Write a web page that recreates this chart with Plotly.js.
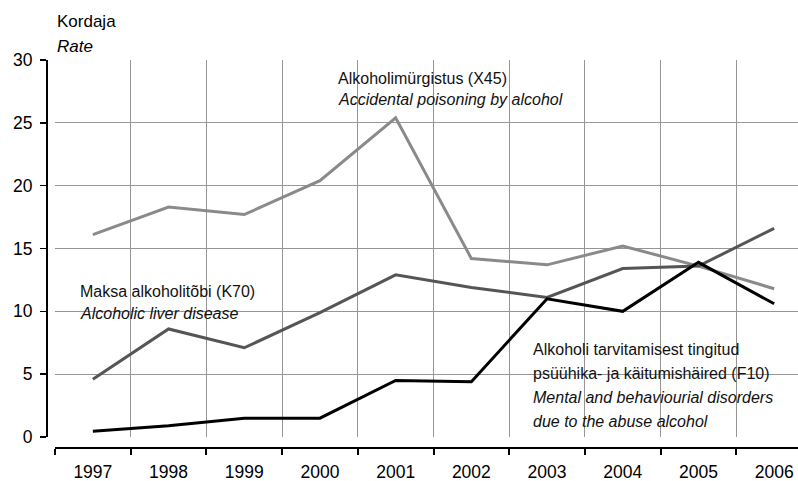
<!DOCTYPE html>
<html>
<head>
<meta charset="utf-8">
<script src="https://cdn.plot.ly/plotly-3.0.1.min.js"></script>
<style>
  html, body { margin: 0; padding: 0; overflow: hidden; background: #fff; }
  #chart { width: 812px; height: 481px; }
</style>
</head>
<body>
<div id="chart"></div>
<script>
// ---- data ----
const years = ['1997','1998','1999','2000','2001','2002','2003','2004','2005','2006'];
const poisoningX45 = [16.1, 18.3, 17.7, 20.4, 25.4, 14.2, 13.7, 15.2, 13.6, 11.8];
const liverK70     = [4.6, 8.6, 7.1, 9.9, 12.9, 11.9, 11.1, 13.4, 13.6, 16.6];
const disordersF10 = [0.45, 0.9, 1.5, 1.5, 4.5, 4.4, 11.0, 10.0, 13.9, 10.6];
const yTicks = [0, 5, 10, 15, 20, 25, 30];

// ---- geometry helpers (pixel -> axis units for text boxes) ----
const PLOT_L = 55, CAT_W = 75.7, Y0 = 437, PX_PER_UNIT = 377 / 30;
const fx = px => (px - PLOT_L) / CAT_W - 0.5;
const fy = py => (Y0 - py) / PX_PER_UNIT;

const FONT = 'Liberation Sans, Arial, sans-serif';

const traces = [
  { x: years, y: poisoningX45, type: 'scatter', mode: 'lines',
    line: { color: '#8a8a8a', width: 3 }, hoverinfo: 'skip' },
  { x: years, y: liverK70, type: 'scatter', mode: 'lines',
    line: { color: '#555555', width: 3 }, hoverinfo: 'skip' },
  { x: years, y: disordersF10, type: 'scatter', mode: 'lines',
    line: { color: '#000000', width: 3 }, hoverinfo: 'skip' }
];

function whiteBox(x0, x1, y0, y1) {
  return { type: 'rect', xref: 'x', yref: 'y', layer: 'below',
    x0: fx(x0), x1: fx(x1), y0: fy(y1), y1: fy(y0),
    fillcolor: '#ffffff', line: { width: 0 } };
}
function label(px, py, text) {
  return { xref: 'x', yref: 'y', x: fx(px), y: fy(py), text: text,
    showarrow: false, xanchor: 'left', yanchor: 'middle',
    font: { family: FONT, size: 16, color: '#111' } };
}

const layout = {
  width: 812, height: 481,
  margin: { l: 40, r: 0, t: 60, b: 33 },
  paper_bgcolor: '#fff', plot_bgcolor: '#fff',
  showlegend: false,
  font: { family: FONT, size: 17, color: '#000' },
  xaxis: {
    type: 'category', categoryorder: 'array', categoryarray: years,
    range: [-0.5, 9.5], domain: [15 / 772, 1],
    anchor: 'free', position: 0,
    tickson: 'boundaries',
    showgrid: true, gridcolor: '#969696', gridwidth: 1,
    showline: true, linecolor: '#000', linewidth: 2,
    ticks: 'outside', ticklen: 6, tickwidth: 2, tickcolor: '#000',
    ticklabelstandoff: 8,
    tickfont: { family: FONT, size: 17.5, color: '#000' },
    zeroline: false, fixedrange: true
  },
  yaxis: {
    range: [0, 30], domain: [11 / 388, 1],
    anchor: 'free', position: 7 / 772,
    tickvals: yTicks, ticktext: yTicks.map(String),
    showgrid: true, gridcolor: '#969696', gridwidth: 1,
    showline: true, linecolor: '#000', linewidth: 2,
    ticks: 'outside', ticklen: 6, tickwidth: 1.5, tickcolor: '#000',
    ticklabelstandoff: 4,
    tickfont: { family: FONT, size: 17.5, color: '#000' },
    zeroline: false, fixedrange: true
  },
  shapes: [
    whiteBox(330, 592, 63, 117),
    whiteBox(70, 285, 275, 332),
    whiteBox(522, 820, 333, 432)
  ],
  annotations: [
    { xref: 'paper', yref: 'paper', x: 15 / 772, y: 1, yshift: 39,
      text: 'Kordaja', showarrow: false, xanchor: 'left', yanchor: 'middle',
      font: { family: FONT, size: 17, color: '#000' } },
    { xref: 'paper', yref: 'paper', x: 15 / 772, y: 1, yshift: 14,
      text: '<i>Rate</i>', showarrow: false, xanchor: 'left', yanchor: 'middle',
      font: { family: FONT, size: 17, color: '#000' } },
    label(336, 78, 'Alkoholimürgistus (X45)'),
    label(336, 99, '<i>Accidental poisoning by alcohol</i>'),
    label(78, 291, 'Maksa alkoholitõbi (K70)'),
    label(78, 313, '<i>Alcoholic liver disease</i>'),
    label(531, 349, 'Alkoholi tarvitamisest tingitud'),
    label(531, 373, 'psüühika- ja käitumishäired (F10)'),
    label(531, 397, '<i>Mental and behaviourial disorders</i>'),
    label(531, 421, '<i>due to the abuse alcohol</i>')
  ]
};

Plotly.newPlot('chart', traces, layout, { staticPlot: true, displayModeBar: false, responsive: false });
</script>
</body>
</html>
